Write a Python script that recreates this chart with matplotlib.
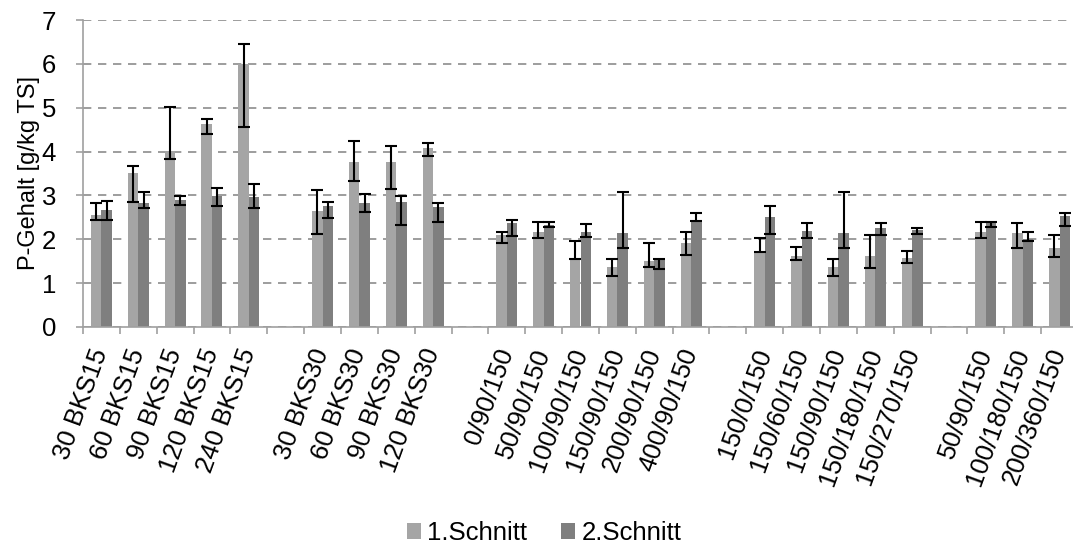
import numpy as np
import matplotlib
matplotlib.use("Agg")
import matplotlib.pyplot as plt
from matplotlib.patches import Patch

plt.rcParams['font.family'] = ['Liberation Sans', 'DejaVu Sans']

# Categories; empty strings are spacer slots between treatment groups
categories = [
    "30 BKS15", "60 BKS15", "90 BKS15", "120 BKS15", "240 BKS15", "",
    "30 BKS30", "60 BKS30", "90 BKS30", "120 BKS30", "",
    "0/90/150", "50/90/150", "100/90/150", "150/90/150", "200/90/150", "400/90/150", "",
    "150/0/150", "150/60/150", "150/90/150", "150/180/150", "150/270/150", "",
    "50/90/150", "100/180/150", "200/360/150",
]

nan = np.nan
# 1. Schnitt: mean, lower and upper error
cut1 = [2.55, 3.52, 4.02, 4.63, 6.00, nan,
        2.65, 3.76, 3.76, 4.08, nan,
        2.10, 2.17, 1.54, 1.37, 1.50, 1.91, nan,
        1.74, 1.62, 1.37, 1.63, 1.57, nan,
        2.17, 2.15, 1.79]
cut1_lo = [0.11, 0.66, 0.20, 0.22, 1.45, nan,
           0.53, 0.42, 0.62, 0.18, nan,
           0.18, 0.13, 0.00, 0.21, 0.14, 0.27, nan,
           0.02, 0.09, 0.21, 0.29, 0.10, nan,
           0.13, 0.36, 0.19]
cut1_hi = [0.27, 0.16, 1.00, 0.12, 0.46, nan,
           0.47, 0.48, 0.37, 0.11, nan,
           0.07, 0.23, 0.43, 0.17, 0.42, 0.26, nan,
           0.28, 0.21, 0.17, 0.47, 0.16, nan,
           0.23, 0.23, 0.31]

# 2. Schnitt: mean, lower and upper error
cut2 = [2.67, 2.82, 2.90, 2.99, 2.97, nan,
        2.76, 2.82, 2.85, 2.74, nan,
        2.36, 2.33, 2.17, 2.14, 1.54, 2.44, nan,
        2.51, 2.20, 2.14, 2.25, 2.21, nan,
        2.36, 2.00, 2.53]
cut2_lo = [0.23, 0.11, 0.12, 0.22, 0.26, nan,
           0.27, 0.19, 0.53, 0.35, nan,
           0.29, 0.06, 0.12, 0.35, 0.21, 0.02, nan,
           0.39, 0.18, 0.35, 0.16, 0.10, nan,
           0.07, 0.04, 0.23]
cut2_hi = [0.20, 0.25, 0.09, 0.17, 0.29, nan,
           0.08, 0.21, 0.14, 0.09, nan,
           0.08, 0.07, 0.18, 0.94, 0.00, 0.17, nan,
           0.25, 0.16, 0.94, 0.11, 0.05, nan,
           0.04, 0.16, 0.06]

series_names = ["1.Schnitt", "2.Schnitt"]
colors = ["#a5a5a5", "#7f7f7f"]

fig = plt.figure(figsize=(10.73, 5.44), dpi=100)
ax = fig.add_axes([83 / 1073, 217 / 544, 995 / 1073, 307 / 544])

x = np.arange(len(categories))
w = 0.285
err_kw = dict(ecolor="black", elinewidth=1.5, capsize=4.5, capthick=1.5)

for vals, lo, hi, col, off in [
    (cut1, cut1_lo, cut1_hi, colors[0], -w / 2),
    (cut2, cut2_lo, cut2_hi, colors[1], w / 2),
]:
    vals = np.array(vals)
    yerr = np.vstack([lo, hi])
    ax.bar(x + off, vals, width=w, color=col, zorder=2,
           yerr=yerr, error_kw=err_kw)

ax.set_xlim(-0.5, len(categories) - 0.5)
ax.set_ylim(0, 7)
ax.set_yticks(range(0, 8))
ax.yaxis.grid(True, linestyle=(0, (5, 4)), color="#8c8c8c", linewidth=1.2, zorder=0)
ax.set_axisbelow(True)

# Category labels at slot centres, tick marks on the slot boundaries
ax.set_xticks(x)
ax.set_xticklabels(categories, rotation=70, ha="right", va="center",
                   rotation_mode="anchor", fontsize=18.5)
ax.tick_params(axis="x", which="major", length=0, pad=16)
ax.set_xticks(np.arange(-0.5, len(categories) + 0.5, 1), minor=True)
ax.tick_params(axis="x", which="minor", length=5, color="#a0a0a0", width=1.2)
ax.tick_params(axis="y", length=5, color="#a0a0a0", width=1.2, labelsize=18.5, pad=14.5)

for side in ["top", "right"]:
    ax.spines[side].set_visible(False)
for side in ["left", "bottom"]:
    ax.spines[side].set_color("#a0a0a0")
    ax.spines[side].set_linewidth(1.2)

ax.set_ylabel("P-Gehalt [g/kg TS]", fontsize=17, labelpad=1)

handles = [Patch(facecolor=c, edgecolor="none") for c in colors]
fig.legend(handles, series_names, loc="center", bbox_to_anchor=(0.507, 0.02),
           ncol=2, frameon=False, fontsize=18.5, handlelength=0.55, handleheight=0.55,
           handletextpad=0.25, columnspacing=1.3)

fig.savefig("out.png", dpi=100)
